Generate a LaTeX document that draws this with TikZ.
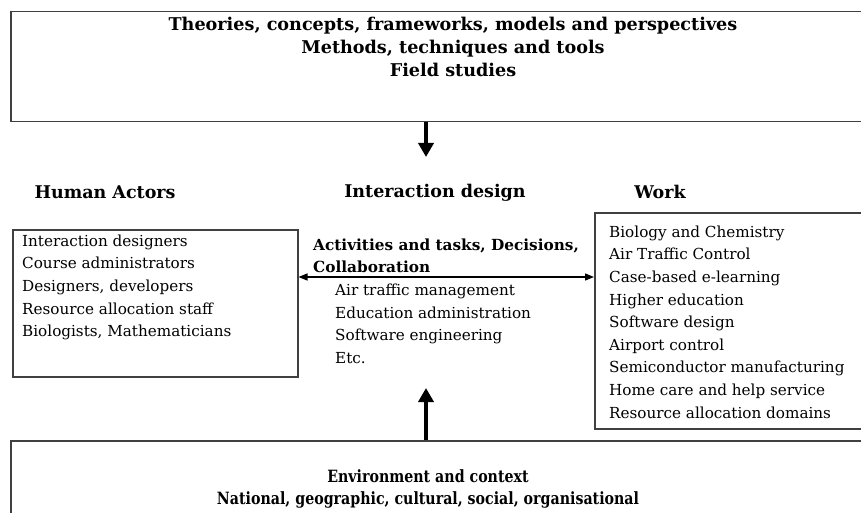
\documentclass[tikz,border=0pt]{standalone}
\usepackage{fontspec}
\setmainfont{DejaVu Serif}
\newfontfamily\condserif[FakeStretch=0.84]{DejaVu Serif}
\usetikzlibrary{arrows.meta}
\begin{document}
\begin{tikzpicture}[x=1pt,y=-1pt,
  box/.style={draw=black!75, line width=1.5pt, anchor=north west, inner sep=0pt},
  bigarrow/.style={line width=4.5pt, -{Triangle[width=15pt,length=14pt]}},
  dblarrow/.style={line width=1.3pt, {Triangle[width=7pt,length=9pt]}-{Triangle[width=7pt,length=9pt]}},
  hdr/.style={font=\fontsize{17.5}{20}\selectfont\bfseries, inner sep=0pt},
  toptxt/.style={font=\fontsize{17.6}{23}\selectfont\bfseries, inner sep=0pt, align=center},
  bottxt/.style={font=\condserif\fontsize{16.9}{22}\selectfont\bfseries, inner sep=0pt, align=center},
  acttxt/.style={font=\fontsize{15.3}{22}\selectfont\bfseries, inner sep=0pt, align=left, anchor=west},
  items/.style={font=\fontsize{15.2}{22.6}\selectfont, inner sep=0pt, align=left, anchor=west}]
\clip (0,0) rectangle (861,513);
\fill[white] (0,0) rectangle (861,513);
% boxes
\node[box, minimum width=870pt, minimum height=110pt] (topbox) at (10,11) {};
\node[box, minimum width=285pt, minimum height=147pt] (lbox) at (12,229) {};
\node[box, minimum width=280pt, minimum height=216pt] (rbox) at (594,212) {};
\node[box, minimum width=870pt, minimum height=100pt] (botbox) at (10,440) {};
% texts
\node[toptxt] (toptext) at (453,47) {Theories, concepts, frameworks, models and perspectives\\Methods, techniques and tools\\Field studies};
\node[hdr] (hum) at (105,192) {Human Actors};
\node[hdr] (des) at (435,193) {Interaction design};
\node[hdr] (work) at (660,192) {Work};
\node[items] (llist) at (22,287.5) {Interaction designers\\Course administrators\\Designers, developers\\Resource allocation staff\\Biologists, Mathematicians};
\node[acttxt] (act) at (313,256) {Activities and tasks, Decisions,\\Collaboration};
\node[items] (mlist) at (335,324) {Air traffic management\\Education administration\\Software engineering\\Etc.};
\node[items] (rlist) at (609,322) {Biology and Chemistry\\Air Traffic Control\\Case-based e-learning\\Higher education\\Software design\\Airport control\\Semiconductor manufacturing\\Home care and help service\\Resource allocation domains};
\node[bottxt] (bottext) at (428,489) {Environment and context\\National, geographic, cultural, social, organisational};
% connectors
\coordinate (dn) at (426,157);
\coordinate (upc) at (426,388);
\coordinate (ay) at (0,277);
\draw[bigarrow] (topbox.south -| dn) -- (dn);
\draw[bigarrow] (botbox.north -| upc) -- (upc);
\draw[dblarrow] (lbox.east |- ay) -- (rbox.west |- ay);
\end{tikzpicture}
\end{document}
